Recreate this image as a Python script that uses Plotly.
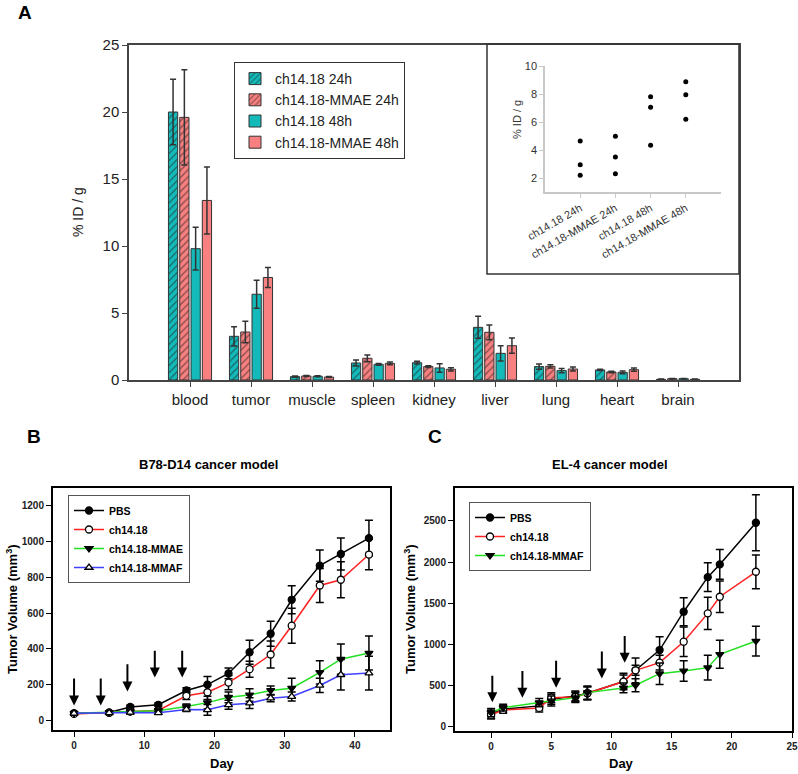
import plotly.graph_objects as go

W, H = 798, 774

# ---------------- Panel A data ----------------
organs = ["blood", "tumor", "muscle", "spleen", "kidney", "liver", "lung", "heart", "brain"]
series_names = ["ch14.18 24h", "ch14.18-MMAE 24h", "ch14.18 48h", "ch14.18-MMAE 48h"]
ch_24 = [20.0, 3.26, 0.25, 1.27, 1.29, 3.93, 1.00, 0.75, 0.05]
ch_24_err = [2.45, 0.72, 0.04, 0.22, 0.10, 0.82, 0.20, 0.05, 0.02]
mmae_24 = [19.6, 3.58, 0.30, 1.62, 1.00, 3.56, 1.02, 0.60, 0.10]
mmae_24_err = [3.55, 0.80, 0.04, 0.25, 0.07, 0.55, 0.12, 0.05, 0.02]
ch_48 = [9.8, 6.40, 0.28, 1.17, 0.90, 1.99, 0.70, 0.57, 0.10]
ch_48_err = [1.6, 1.05, 0.04, 0.07, 0.32, 0.57, 0.15, 0.10, 0.02]
mmae_48 = [13.4, 7.65, 0.22, 1.24, 0.80, 2.56, 0.82, 0.77, 0.05]
mmae_48_err = [2.5, 0.75, 0.04, 0.10, 0.12, 0.57, 0.15, 0.12, 0.02]

# inset (tumor uptake, individual animals)
inset_groups = ["ch14.18 24h", "ch14.18-MMAE 24h", "ch14.18 48h", "ch14.18-MMAE 48h"]
inset_pos = [1, 2, 3, 4]
inset_vals = [[4.64, 2.95, 2.2], [4.98, 3.5, 2.3], [7.8, 7.05, 4.34], [8.88, 7.95, 6.2]]

# ---------------- Panel B data ----------------
b_days = [0, 5, 8, 12, 16, 19, 22, 25, 28, 31, 35, 38, 42]
b_pbs = [41, 45, 76, 88, 168, 201, 263, 382, 485, 675, 866, 931, 1020]
b_pbs_err = [10, 8, 10, 10, 15, 45, 30, 67, 70, 78, 88, 90, 100]
b_ch = [37, 43, 50, 56, 138, 158, 212, 287, 369, 530, 755, 787, 928]
b_ch_err = [8, 8, 8, 10, 20, 40, 40, 45, 75, 98, 95, 100, 85]
b_mmae = [40, 45, 50, 55, 78, 100, 130, 143, 168, 181, 269, 343, 377]
b_mmae_err = [8, 8, 8, 10, 15, 35, 30, 35, 25, 55, 65, 85, 95]
b_mmaf = [40, 43, 45, 43, 62, 60, 88, 97, 125, 134, 196, 256, 265]
b_mmaf_err = [8, 8, 8, 8, 12, 30, 25, 30, 20, 25, 40, 85, 95]
b_arrow_days = [0, 3.8, 7.6, 11.5, 15.4]
b_arrow_top = [243, 243, 323, 398, 398]
b_arrow_tip = [84, 84, 162, 240, 240]

# ---------------- Panel C data ----------------
c_days = [0, 1, 4, 5, 7, 8, 11, 12, 14, 16, 18, 19, 22]
c_pbs = [154, 214, 255, 335, 376, 408, 550, 687, 933, 1398, 1818, 1972, 2478]
c_pbs_err = [50, 40, 50, 60, 60, 80, 100, 150, 160, 170, 175, 180, 340]
c_ch = [145, 206, 230, 355, 364, 408, 550, 687, 780, 1034, 1378, 1580, 1883]
c_ch_err = [50, 40, 50, 60, 60, 80, 80, 60, 90, 180, 195, 190, 205]
c_mmaf = [174, 234, 295, 315, 355, 416, 473, 505, 646, 679, 719, 881, 1042]
c_mmaf_err = [50, 40, 50, 60, 60, 80, 60, 80, 130, 125, 150, 170, 180]
c_arrow_days = [0.1, 2.6, 5.4, 9.2, 11.1]
c_arrow_top = [638, 698, 820, 933, 1123]
c_arrow_tip = [298, 355, 476, 586, 780]

FONT = "Arial, Liberation Sans, sans-serif"
TEAL = "#14BABA"
CORAL = "#F88080"


def px(x):
    return x / W


def py(y):
    return 1 - y / H


fig = go.Figure()

# ---- Panel A bars
bar_specs = [
    (series_names[0], ch_24, ch_24_err, TEAL, "/"),
    (series_names[1], mmae_24, mmae_24_err, CORAL, "/"),
    (series_names[2], ch_48, ch_48_err, TEAL, ""),
    (series_names[3], mmae_48, mmae_48_err, CORAL, ""),
]
for name, vals, errs, col, pat in bar_specs:
    fig.add_trace(go.Bar(
        x=organs, y=vals, name=name,
        marker=dict(color=col, line=dict(color="#333333", width=1),
                    pattern=dict(shape=pat, fgcolor="#1a1a1a", size=5, solidity=0.28)),
        error_y=dict(type="data", array=errs, color="#333333", thickness=1.5, width=3),
        xaxis="x", yaxis="y", legend="legend",
    ))

# ---- Inset scatter
for pos, vals in zip(inset_pos, inset_vals):
    fig.add_trace(go.Scatter(
        x=[pos] * len(vals), y=vals, mode="markers",
        marker=dict(color="black", size=5), showlegend=False,
        xaxis="x2", yaxis="y2",
    ))

# ---- Panel B lines
b_specs = [
    ("PBS", b_pbs, b_pbs_err, "black", "circle", "black"),
    ("ch14.18", b_ch, b_ch_err, "#FF2020", "circle", "white"),
    ("ch14.18-MMAE", b_mmae, b_mmae_err, "#22E022", "triangle-down", "black"),
    ("ch14.18-MMAF", b_mmaf, b_mmaf_err, "#4040FF", "triangle-up", "white"),
]
for name, vals, errs, lc, sym, fc in b_specs:
    fig.add_trace(go.Scatter(
        x=b_days, y=vals, name=name, mode="lines+markers",
        line=dict(color=lc, width=1.5),
        marker=dict(symbol=sym, size=7, color=fc, line=dict(color="black", width=1.3)),
        error_y=dict(type="data", array=errs, color="black", thickness=1.5, width=4),
        xaxis="x3", yaxis="y3", legend="legend2",
    ))

# ---- Panel C lines
c_specs = [
    ("PBS", c_pbs, c_pbs_err, "black", "circle", "black"),
    ("ch14.18", c_ch, c_ch_err, "#FF2020", "circle", "white"),
    ("ch14.18-MMAF", c_mmaf, c_mmaf_err, "#22E022", "triangle-down", "black"),
]
for name, vals, errs, lc, sym, fc in c_specs:
    fig.add_trace(go.Scatter(
        x=c_days, y=vals, name=name, mode="lines+markers",
        line=dict(color=lc, width=1.5),
        marker=dict(symbol=sym, size=7, color=fc, line=dict(color="black", width=1.3)),
        error_y=dict(type="data", array=errs, color="black", thickness=1.5, width=4),
        xaxis="x4", yaxis="y4", legend="legend3",
    ))

annotations = []
# arrows (dosing days)
for d, t, tip in zip(b_arrow_days, b_arrow_top, b_arrow_tip):
    annotations.append(dict(x=d, y=tip, ax=d, ay=t, xref="x3", yref="y3", axref="x3", ayref="y3",
                            showarrow=True, arrowhead=2, arrowsize=1, arrowwidth=2, arrowcolor="black", text=""))
for d, t, tip in zip(c_arrow_days, c_arrow_top, c_arrow_tip):
    annotations.append(dict(x=d, y=tip, ax=d, ay=t, xref="x4", yref="y4", axref="x4", ayref="y4",
                            showarrow=True, arrowhead=2, arrowsize=1, arrowwidth=2, arrowcolor="black", text=""))


def label(text, x, y, size, bold=False, angle=0, color="black"):
    annotations.append(dict(text=f"<b>{text}</b>" if bold else text, x=px(x), y=py(y),
                            xref="paper", yref="paper", showarrow=False, textangle=angle,
                            font=dict(family=FONT, size=size, color=color),
                            xanchor="center", yanchor="middle"))


label("A", 25, 12, 19, bold=True)
label("B", 34, 436, 19, bold=True)
label("C", 435, 436, 19, bold=True)
label("% ID / g", 78, 212, 14, angle=-90, color="#222")
label("% ID / g", 517, 120, 11, angle=-90, color="#333")
label("B78-D14 cancer model", 208, 464, 13, bold=True)
label("EL-4 cancer model", 610, 465, 13, bold=True)
label("Tumor Volume (mm<sup>3</sup>)", 12, 609, 13, bold=True, angle=-90)
label("Tumor Volume (mm<sup>3</sup>)", 410, 609, 13, bold=True, angle=-90)
label("Day", 222, 763, 13, bold=True)
label("Day", 621, 763, 13, bold=True)

shapes = [
    dict(type="rect", xref="paper", yref="paper", x0=px(487), x1=px(739), y0=py(274), y1=py(44),
         line=dict(color="#333", width=1.5), fillcolor="rgba(0,0,0,0)", layer="above"),
]

TICKB = dict(size=10, color="#222", family=FONT, weight="bold")

fig.update_layout(
    width=W, height=H, margin=dict(l=0, r=0, t=0, b=0, autoexpand=False),
    paper_bgcolor="white", plot_bgcolor="white",
    font=dict(family=FONT, color="black"),
    barmode="group", bargap=0.26, bargroupgap=0.18,
    showlegend=True,
    annotations=annotations, shapes=shapes,
    xaxis=dict(domain=[px(129), px(739)], anchor="y", range=[-1, 9], type="category",
               showline=True, linecolor="#444", linewidth=1.5, mirror=True,
               ticks="outside", ticklen=5, tickcolor="#444",
               tickfont=dict(size=15, color="#222"), showgrid=False),
    yaxis=dict(domain=[py(380), py(45)], anchor="x", range=[0, 25], tickvals=[0, 5, 10, 15, 20, 25],
               showline=True, linecolor="#444", linewidth=1.5, mirror=True,
               ticks="outside", ticklen=5, tickcolor="#444",
               tickfont=dict(size=15, color="#222"), showgrid=False, zeroline=False),
    xaxis2=dict(domain=[px(545), px(721)], anchor="y2", range=[0, 5],
                tickvals=inset_pos, ticktext=inset_groups, tickangle=-30,
                showline=True, linecolor="#c8c8c8", linewidth=1.5,
                ticks="outside", ticklen=4, tickcolor="#c8c8c8",
                tickfont=dict(size=11, color="#333"), showgrid=False, zeroline=False),
    yaxis2=dict(domain=[py(192), py(66)], anchor="x2", range=[1, 10], tickvals=[2, 4, 6, 8, 10],
                showline=True, linecolor="#c8c8c8", linewidth=1.5,
                ticks="outside", ticklen=4, tickcolor="#c8c8c8",
                tickfont=dict(size=11, color="#333"), showgrid=False, zeroline=False),
    xaxis3=dict(domain=[px(53), px(390)], anchor="y3", range=[-3, 45], tickvals=[0, 10, 20, 30, 40],
                showline=True, linecolor="black", linewidth=2, mirror=True,
                ticks="outside", ticklen=5, tickcolor="black",
                tickfont=TICKB, showgrid=False, zeroline=False),
    yaxis3=dict(domain=[py(730), py(488)], anchor="x3", range=[-53, 1300],
                tickvals=[0, 200, 400, 600, 800, 1000, 1200],
                showline=True, linecolor="black", linewidth=2, mirror=True,
                ticks="outside", ticklen=5, tickcolor="black",
                tickfont=TICKB, showgrid=False, zeroline=False),
    xaxis4=dict(domain=[px(455), px(792)], anchor="y4", range=[-3, 25], tickvals=[0, 5, 10, 15, 20, 25],
                showline=True, linecolor="black", linewidth=2, mirror=True,
                ticks="outside", ticklen=5, tickcolor="black",
                tickfont=TICKB, showgrid=False, zeroline=False),
    yaxis4=dict(domain=[py(731), py(488)], anchor="x4", range=[-50, 2900],
                tickvals=[0, 500, 1000, 1500, 2000, 2500],
                showline=True, linecolor="black", linewidth=2, mirror=True,
                ticks="outside", ticklen=5, tickcolor="black",
                tickfont=TICKB, showgrid=False, zeroline=False),
    legend=dict(x=px(234), y=py(62), xanchor="left", yanchor="top",
                bordercolor="#333", borderwidth=1, bgcolor="white",
                font=dict(size=14, color="#222"), tracegroupgap=0),
    legend2=dict(x=px(68), y=py(495), xanchor="left", yanchor="top",
                 bordercolor="#555", borderwidth=1, bgcolor="white",
                 font=dict(size=10.5, color="black", weight="bold")),
    legend3=dict(x=px(469), y=py(502), xanchor="left", yanchor="top",
                 bordercolor="#555", borderwidth=1, bgcolor="white",
                 font=dict(size=10.5, color="black", weight="bold")),
)

fig.write_html("out.html", config={"displayModeBar": False},
               post_script="document.body.style.margin='0';document.body.style.overflow='hidden';")
